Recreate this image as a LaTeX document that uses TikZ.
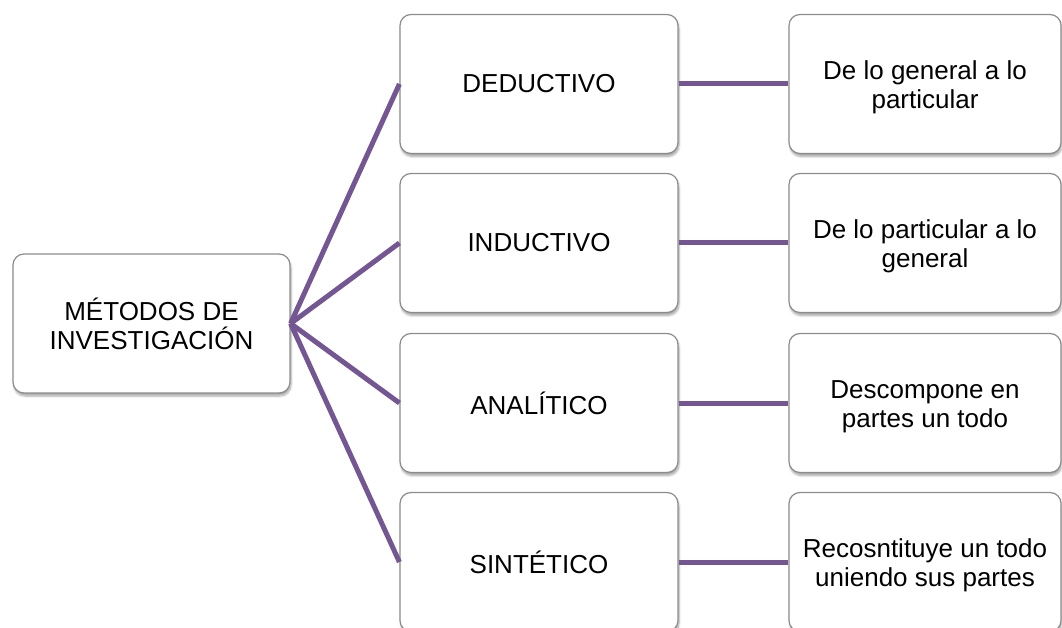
\documentclass[tikz,border=0pt]{standalone}
\usepackage{fontspec}
\setmainfont{Liberation Sans}
\usetikzlibrary{shadows.blur}
\definecolor{linkpurple}{RGB}{116,86,146}
\definecolor{boxedge}{RGB}{140,140,140}
% two-line label set a little lower in its box
\newcommand{\lowlabel}[2]{\raisebox{-4pt}[\height][\depth]{\begin{tabular}{@{}c@{}}#1\\#2\end{tabular}}}
\begin{document}
\begin{tikzpicture}[x=1pt,y=-1pt,
  box/.style={draw=boxedge, line width=1.2pt, fill=white, rounded corners=11pt,
    minimum height=139pt, align=center, inner sep=0pt,
    font=\fontsize{26}{29}\selectfont,
    blur shadow={shadow xshift=1pt, shadow yshift=-3pt, shadow blur steps=6, shadow opacity=35}},
  midbox/.style={box, minimum width=278pt},
  leafbox/.style={box, minimum width=272pt},
  link/.style={draw=linkpurple, line width=5pt}]
\useasboundingbox (0,0) rectangle (1062,628);
\clip (0,0) rectangle (1062,628);

% root
\node[box, minimum width=277pt] (root) at (151.5,323.5) {MÉTODOS DE\\INVESTIGACIÓN};

% methods
\node[midbox] (ded) at (539,84)  {DEDUCTIVO};
\node[midbox] (ind) at (539,243) {INDUCTIVO};
\node[midbox] (ana) at (539,403) {ANALÍTICO};
\node[midbox] (sin) at (539,562) {SINTÉTICO};

% descriptions
\node[leafbox] (dedd) at (925,84)  {\lowlabel{De lo general a lo}{particular}};
\node[leafbox] (indd) at (925,243) {\lowlabel{De lo particular a lo}{general}};
\node[leafbox] (anad) at (925,403) {\lowlabel{Descompone en}{partes un todo}};
\node[leafbox] (sind) at (925,562) {\lowlabel{Recosntituye un todo}{uniendo sus partes}};

% connectors
\foreach \m in {ded,ind,ana,sin}{
  \draw[link] (root.east) -- (\m.west);
  \draw[link] (\m.east) -- (\m d.west);
}
\end{tikzpicture}
\end{document}
